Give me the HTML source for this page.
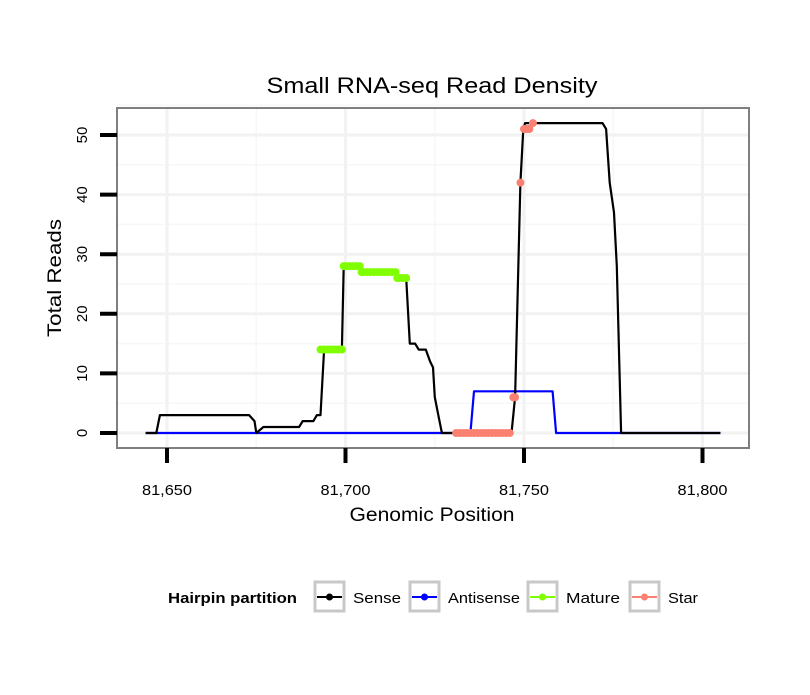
<!DOCTYPE html>
<html><head><meta charset="utf-8"><style>
body{margin:0;background:#fff;font-family:"Liberation Sans",sans-serif;}
</style></head><body>
<svg width="810" height="690" xmlns="http://www.w3.org/2000/svg" font-family="Liberation Sans, sans-serif">
<rect width="810" height="690" fill="#fff"/>
<g id="grid"></g>
<g id="marks"></g>
<rect x="117" y="108" width="632" height="340" fill="none" stroke="#7f7f7f" stroke-width="2"/>
<g id="axes"></g>
<text x="432" y="93" font-size="22" text-anchor="middle" textLength="331" lengthAdjust="spacingAndGlyphs">Small RNA-seq Read Density</text>
<text x="432" y="521" font-size="19" text-anchor="middle" textLength="165" lengthAdjust="spacingAndGlyphs">Genomic Position</text>
<text transform="translate(61,278) rotate(-90)" font-size="19" text-anchor="middle" textLength="118" lengthAdjust="spacingAndGlyphs">Total Reads</text>
<g font-size="15">
<text x="168" y="603" font-weight="bold" textLength="129" lengthAdjust="spacingAndGlyphs">Hairpin partition</text>
<g><rect x="315" y="582" width="29" height="29" fill="#fff" stroke="#c8c8c8" stroke-width="3"/><line x1="317" y1="597" x2="342" y2="597" stroke="#000" stroke-width="2"/><circle cx="329.5" cy="597" r="3.5" fill="#000"/><text x="353" y="603" textLength="48" lengthAdjust="spacingAndGlyphs">Sense</text></g>
<g><rect x="410" y="582" width="29" height="29" fill="#fff" stroke="#c8c8c8" stroke-width="3"/><line x1="412" y1="597" x2="437" y2="597" stroke="#00f" stroke-width="2"/><circle cx="424.5" cy="597" r="3.5" fill="#00f"/><text x="448" y="603" textLength="72" lengthAdjust="spacingAndGlyphs">Antisense</text></g>
<g><rect x="528" y="582" width="29" height="29" fill="#fff" stroke="#c8c8c8" stroke-width="3"/><line x1="530" y1="597" x2="555" y2="597" stroke="#7fff00" stroke-width="2"/><circle cx="542.5" cy="597" r="3.5" fill="#7fff00"/><text x="566" y="603" textLength="54" lengthAdjust="spacingAndGlyphs">Mature</text></g>
<g><rect x="630" y="582" width="29" height="29" fill="#fff" stroke="#c8c8c8" stroke-width="3"/><line x1="632" y1="597" x2="657" y2="597" stroke="#fa8072" stroke-width="2"/><circle cx="644.5" cy="597" r="3.5" fill="#fa8072"/><text x="668" y="603" textLength="30" lengthAdjust="spacingAndGlyphs">Star</text></g>
</g>
</svg>
<script>
const xTicks=[81650,81700,81750,81800];
const xTickLabels=["81,650","81,700","81,750","81,800"];
const yTicks=[0,10,20,30,40,50];
const yTickLabels=["0","10","20","30","40","50"];
const senseX=[81644,81647,81648,81673,81674.5,81675,81677,81687,81688,81691,81692,81693,81694,81699,81699.5,81704,81704.5,81714,81714.5,81717,81718,81719.5,81720.5,81722.5,81723.7,81724.5,81725,81726,81727,81746.5,81747.5,81749,81749.8,81750.3,81772,81773,81774,81775.2,81776,81777.2,81805];
const senseY=[0,0,3,3,2,0,1,1,2,2,3,3,14,14,28,28,27,27,26,26,15,15,14,14,12,11,6,3,0,0,6,42,51,52,52,51,42,37,28,0,0];
const antiX=[81644,81735,81736,81758,81759,81805];
const antiY=[0,0,7,7,0,0];
const matureX=[81693,81694,81695,81696,81697,81698,81699,81699.5,81700,81701,81702,81703,81704,81704.5,81705,81706,81707,81708,81709,81710,81711,81712,81713,81714,81714.5,81715,81716,81717];
const matureY=[14,14,14,14,14,14,14,28,28,28,28,28,28,27,27,27,27,27,27,27,27,27,27,27,26,26,26,26];
const starX=[81731,81732,81733,81734,81735,81736,81737,81738,81739,81740,81741,81742,81743,81744,81745,81746,81747,81747.5,81749,81750,81750.5,81751,81751.5,81752.5];
const starY=[0,0,0,0,0,0,0,0,0,0,0,0,0,0,0,0,6,6,42,51,51,51,51,52];
const NS='http://www.w3.org/2000/svg';
const sx=v=>167+(v-81650)*3.57;
const sy=v=>433-v*5.96;
function mk(t,a,p){const e=document.createElementNS(NS,t);for(const k in a)e.setAttribute(k,a[k]);p.appendChild(e);return e;}
const grid=document.getElementById('grid'),marks=document.getElementById('marks'),axes=document.getElementById('axes');
for(let i=0;i<xTicks.length;i++){const x=sx(xTicks[i]-25);if(x>117){const l=mk('line',{x1:x,x2:x,y1:108,y2:448,stroke:'#f7f7f7','stroke-width':1.5},grid);}}
for(let i=0;i<yTicks.length;i++){const y=sy(yTicks[i]+5);const l=mk('line',{x1:117,x2:749,y1:y,y2:y,stroke:'#f7f7f7','stroke-width':1.5},grid);}
for(let i=0;i<xTicks.length;i++){const x=sx(xTicks[i]);const l=mk('line',{x1:x,x2:x,y1:108,y2:448,stroke:'#f2f2f2','stroke-width':3},grid);
const t=mk('line',{x1:x,x2:x,y1:448,y2:463,stroke:'#000','stroke-width':4},axes);
const tx=mk('text',{x:x,y:495,'font-size':15,'text-anchor':'middle',textLength:50,lengthAdjust:'spacingAndGlyphs'},axes);tx.textContent=xTickLabels[i];}
for(let i=0;i<yTicks.length;i++){const y=sy(yTicks[i]);const l=mk('line',{x1:117,x2:749,y1:y,y2:y,stroke:'#f2f2f2','stroke-width':3},grid);
const t=mk('line',{x1:100,x2:117,y1:y,y2:y,stroke:'#000','stroke-width':4},axes);
const tx=mk('text',{transform:`translate(87,${y}) rotate(-90)`,'font-size':15,'text-anchor':'middle'},axes);tx.textContent=yTickLabels[i];}
function line(X,Y,c,name){const p=X.map((v,i)=>sx(v).toFixed(1)+','+sy(Y[i]).toFixed(1)).join(' ');const e=mk('polyline',{points:p,fill:'none',stroke:c,'stroke-width':2.2,'stroke-linejoin':'round'},marks);}
function pts(X,Y,c,name){for(let i=0;i<X.length;i++){const e=mk('circle',{cx:sx(X[i]),cy:sy(Y[i]),r:4,fill:c},marks);}}
line(antiX,antiY,'#0000ff','antisense-line');
line(senseX,senseY,'#000','sense-line');
pts(matureX,matureY,'#7fff00','mature-point');
pts(starX,starY,'#fa8072','star-point');
</script>
</body></html>
